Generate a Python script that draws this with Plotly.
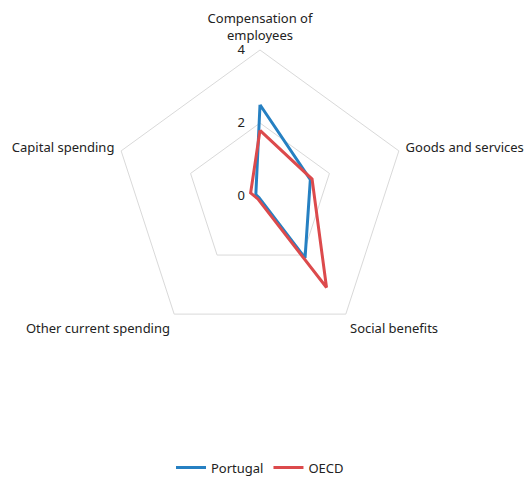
import plotly.graph_objects as go

# Spending categories around the radar
categories = [
    "Compensation of<br>employees",
    "Goods and services",
    "Social benefits",
    "Other current spending",
    "Capital spending",
]

# Values per category
portugal = [2.5, 1.45, 2.1, 0.05, 0.12]
oecd = [1.8, 1.5, 3.1, 0.1, 0.27]

radial_ticks = [0, 2, 4]

BLUE = "#2680c2"
RED = "#dc4a4c"
GRID = "#d9d9d9"
FONT = "Noto Sans"
CLEAR = "rgba(0,0,0,0)"


def closed(vals):
    return vals + vals[:1]


fig = go.Figure()
fig.add_trace(go.Scatterpolar(
    r=closed(portugal), theta=closed(categories), mode="lines",
    name="Portugal", line=dict(color=BLUE, width=3),
))
fig.add_trace(go.Scatterpolar(
    r=closed(oecd), theta=closed(categories), mode="lines",
    name="OECD", line=dict(color=RED, width=3),
))

fig.update_layout(
    width=531, height=478,
    margin=dict(l=114, r=125, t=50, b=136, autoexpand=False),
    paper_bgcolor="white",
    font=dict(family=FONT, size=13, color="#222222"),
    polar=dict(
        bgcolor="white",
        gridshape="linear",
        radialaxis=dict(
            range=[0, 4], tickvals=radial_ticks, ticktext=[str(v) for v in radial_ticks],
            angle=90, tickangle=90, side="counterclockwise",
            showline=False, ticks="outside", ticklen=10, tickcolor=CLEAR,
            gridcolor=GRID, gridwidth=1,
            tickfont=dict(size=13, color="#222222"),
        ),
        angularaxis=dict(
            direction="clockwise", rotation=90,
            showgrid=False, showline=True, linecolor=GRID, linewidth=1,
            ticks="outside", ticklen=4, tickcolor=CLEAR,
            tickfont=dict(size=13, color="#222222"),
        ),
    ),
    showlegend=True,
    legend=dict(
        orientation="h", x=0.5, xanchor="center", y=-0.43, yanchor="middle",
        font=dict(size=13), itemwidth=30,
    ),
)

fig.write_html("out.html")
